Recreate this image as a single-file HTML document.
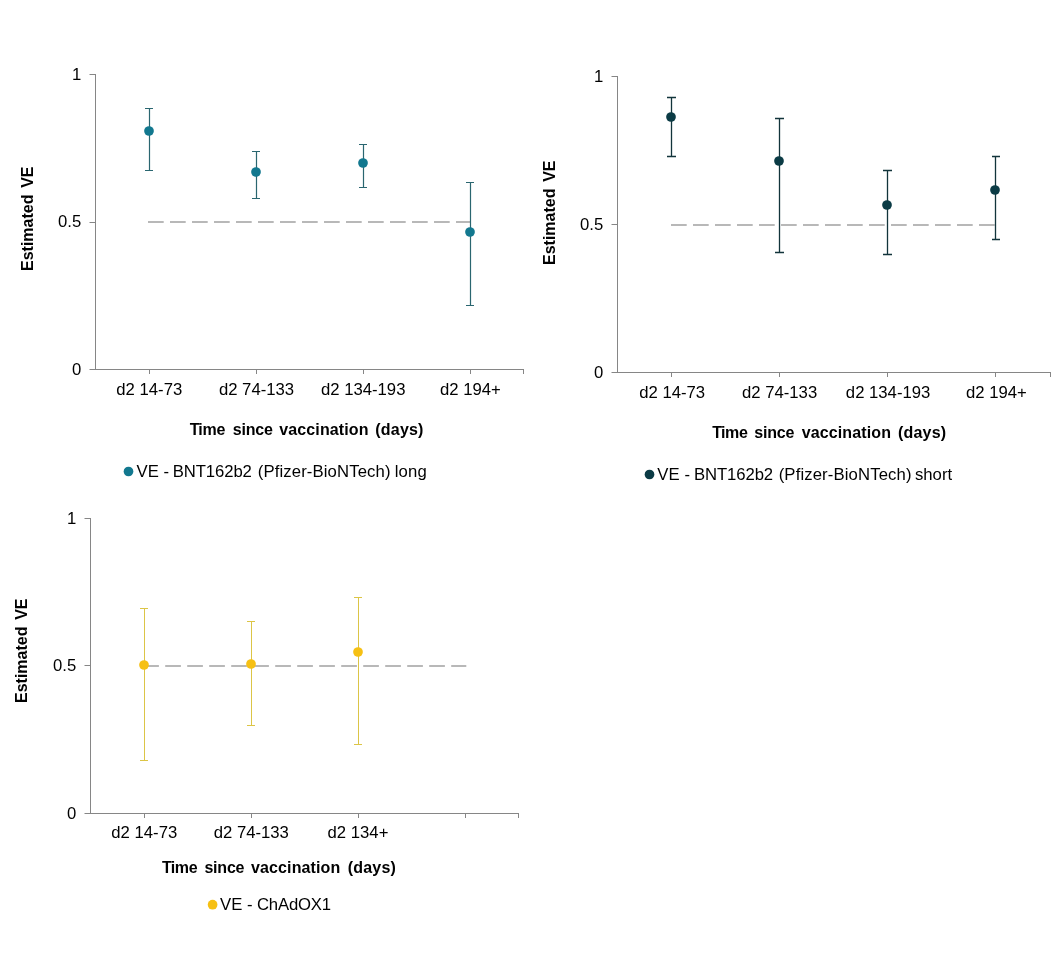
<!DOCTYPE html>
<html><head><meta charset="utf-8"><title>Estimated VE</title>
<style>
html,body{margin:0;padding:0;background:#fff;}
svg{display:block;font-family:'Liberation Sans', sans-serif;opacity:0.999;will-change:transform;}
</style></head>
<body>
<svg width="1063" height="965" viewBox="0 0 1063 965">
<rect width="1063" height="965" fill="#fff"/>
<g stroke="#868686" stroke-width="1" fill="none">
<path d="M95.5 74.0V370.0"/>
<path d="M95.0 369.5H524.0"/>
<path d="M89.5 74.5H95.5M89.5 222.5H95.5M89.5 369.5H95.5M149.5 369.5V374.0M256.5 369.5V374.0M363.5 369.5V374.0M470.5 369.5V374.0M523.5 369.5V374.0"/>
</g>
<g font-size="16.7" fill="#000">
<text x="81.3" y="80" text-anchor="end">1</text>
<text x="81.3" y="227" text-anchor="end">0.5</text>
<text x="81.3" y="375" text-anchor="end">0</text>
<text x="149.3" y="395" text-anchor="middle">d2 14-73</text>
<text x="256.5" y="395" text-anchor="middle">d2 74-133</text>
<text x="363.2" y="395" text-anchor="middle">d2 134-193</text>
<text x="470.4" y="395" text-anchor="middle">d2 194+</text>
</g>
<path d="M148 222H470" stroke="#b8b8b8" stroke-width="2" stroke-dasharray="15.7 6.3" fill="none"/>
<path d="M149.5 108.0V171.0M145 108.5H153M145 170.5H153M256.5 151.0V199.0M252 151.5H260M252 198.5H260M363.5 144.0V188.0M359 144.5H367M359 187.5H367M470.5 182.0V306.0M466 182.5H474M466 305.5H474" stroke="#2a6670" stroke-width="1.2" fill="none"/>
<circle cx="149" cy="131" r="4.85" fill="#12788f"/>
<circle cx="256" cy="172" r="4.85" fill="#12788f"/>
<circle cx="363" cy="163" r="4.85" fill="#12788f"/>
<circle cx="470" cy="232" r="4.85" fill="#12788f"/>
<text y="435" font-size="16" font-weight="bold" fill="#000"><tspan x="189.7">T</tspan><tspan dx="-1.2" letter-spacing="-0.25">ime</tspan><tspan x="232.7" letter-spacing="-0.2">since</tspan><tspan x="279.29999999999995" letter-spacing="0.12">vaccination</tspan><tspan x="375.29999999999995" letter-spacing="0.2">(days)</tspan></text>
<text transform="translate(33 271) rotate(-90)" font-size="16" font-weight="bold" fill="#000">Estimated</text>
<text transform="translate(33 187.8) rotate(-90)" font-size="16" font-weight="bold" fill="#000">VE</text>
<circle cx="128.5" cy="471.5" r="4.85" fill="#12788f"/>
<text y="477" font-size="16.7" fill="#000"><tspan x="136.5">VE</tspan><tspan x="163.4">-</tspan><tspan x="172.8" letter-spacing="-0.1">BNT162b2</tspan><tspan x="257.8" letter-spacing="0.12">(Pfizer-BioNTech)</tspan><tspan x="394.7" letter-spacing="0.2">long</tspan></text>
<g stroke="#868686" stroke-width="1" fill="none">
<path d="M617.5 76.0V373.0"/>
<path d="M617.0 372.5H1051.0"/>
<path d="M611.5 76.5H617.5M611.5 224.5H617.5M611.5 372.5H617.5M671.5 372.5V377.0M779.5 372.5V377.0M887.5 372.5V377.0M995.5 372.5V377.0M1050.5 372.5V377.0"/>
</g>
<g font-size="16.7" fill="#000">
<text x="603.2" y="82" text-anchor="end">1</text>
<text x="603.2" y="230" text-anchor="end">0.5</text>
<text x="603.2" y="378" text-anchor="end">0</text>
<text x="672.2" y="398" text-anchor="middle">d2 14-73</text>
<text x="779.6" y="398" text-anchor="middle">d2 74-133</text>
<text x="888.1" y="398" text-anchor="middle">d2 134-193</text>
<text x="996.4" y="398" text-anchor="middle">d2 194+</text>
</g>
<path d="M671 225H995" stroke="#b8b8b8" stroke-width="2" stroke-dasharray="15.7 6.3" fill="none"/>
<path d="M671.5 97.0V157.0M667 97.5H676M667 156.5H676M779.5 118.0V253.0M775 118.5H784M775 252.5H784M887.5 170.0V255.0M883 170.5H892M883 254.5H892M995.5 156.0V240.0M992 156.5H1000M992 239.5H1000" stroke="#12343b" stroke-width="1.3" fill="none"/>
<circle cx="671" cy="117" r="4.85" fill="#0b3b45"/>
<circle cx="779" cy="161" r="4.85" fill="#0b3b45"/>
<circle cx="887" cy="205" r="4.85" fill="#0b3b45"/>
<circle cx="995" cy="190" r="4.85" fill="#0b3b45"/>
<text y="438" font-size="16" font-weight="bold" fill="#000"><tspan x="712.3">T</tspan><tspan dx="-1.2" letter-spacing="-0.25">ime</tspan><tspan x="754.3" letter-spacing="-0.2">since</tspan><tspan x="801.6999999999999" letter-spacing="0.12">vaccination</tspan><tspan x="898.0" letter-spacing="0.2">(days)</tspan></text>
<text transform="translate(555 265) rotate(-90)" font-size="16" font-weight="bold" fill="#000">Estimated</text>
<text transform="translate(555 181.8) rotate(-90)" font-size="16" font-weight="bold" fill="#000">VE</text>
<circle cx="649.5" cy="474.5" r="4.85" fill="#0b3b45"/>
<text y="480" font-size="16.7" fill="#000"><tspan x="657.3">VE</tspan><tspan x="684.6">-</tspan><tspan x="693.9" letter-spacing="-0.08">BNT162b2</tspan><tspan x="778.7" letter-spacing="0.13">(Pfizer-BioNTech)</tspan><tspan x="915">short</tspan></text>
<g stroke="#868686" stroke-width="1" fill="none">
<path d="M90.5 518.0V814.0"/>
<path d="M90.0 813.5H519.0"/>
<path d="M84.5 518.5H90.5M84.5 665.5H90.5M84.5 813.5H90.5M144.5 813.5V818.0M251.5 813.5V818.0M358.5 813.5V818.0M465.5 813.5V818.0M518.5 813.5V818.0"/>
</g>
<g font-size="16.7" fill="#000">
<text x="76.3" y="524" text-anchor="end">1</text>
<text x="76.3" y="671" text-anchor="end">0.5</text>
<text x="76.3" y="819" text-anchor="end">0</text>
<text x="144.3" y="838" text-anchor="middle">d2 14-73</text>
<text x="251.3" y="838" text-anchor="middle">d2 74-133</text>
<text x="358" y="838" text-anchor="middle">d2 134+</text>
</g>
<path d="M143.2 666H466.3" stroke="#b8b8b8" stroke-width="2" stroke-dasharray="15.7 6.3" fill="none"/>
<path d="M144.5 608.0V761.0M140 608.5H148M140 760.5H148M251.5 621.0V726.0M247 621.5H255M247 725.5H255M358.5 597.0V745.0M354 597.5H362M354 744.5H362" stroke="#dcc546" stroke-width="1.0" fill="none"/>
<circle cx="144" cy="665" r="4.85" fill="#f6c013"/>
<circle cx="251" cy="664" r="4.85" fill="#f6c013"/>
<circle cx="358" cy="652" r="4.85" fill="#f6c013"/>
<text y="873" font-size="16" font-weight="bold" fill="#000"><tspan x="162.1">T</tspan><tspan dx="-1.2" letter-spacing="-0.25">ime</tspan><tspan x="204.39999999999998" letter-spacing="-0.2">since</tspan><tspan x="251.0" letter-spacing="0.12">vaccination</tspan><tspan x="347.7" letter-spacing="0.2">(days)</tspan></text>
<text transform="translate(27 703) rotate(-90)" font-size="16" font-weight="bold" fill="#000">Estimated</text>
<text transform="translate(27 619.8) rotate(-90)" font-size="16" font-weight="bold" fill="#000">VE</text>
<circle cx="212.6" cy="904.7" r="4.85" fill="#f6c013"/>
<text y="910" font-size="16.7" fill="#000"><tspan x="220.1">VE</tspan><tspan x="246.9">-</tspan><tspan x="256.9" letter-spacing="-0.15">ChAdOX1</tspan></text>
</svg>
</body></html>
